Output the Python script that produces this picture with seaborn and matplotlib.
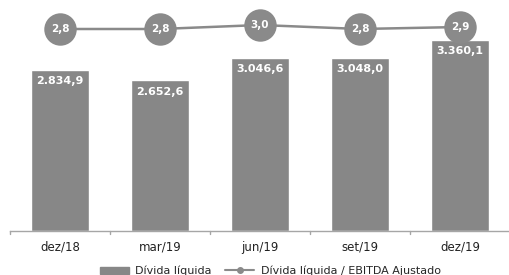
import matplotlib
matplotlib.use("Agg")
import matplotlib.pyplot as plt
import seaborn as sns
import pandas as pd
from matplotlib.lines import Line2D
from matplotlib.patches import Patch

categories = ["dez/18", "mar/19", "jun/19", "set/19", "dez/19"]
divida_liquida = [2834.9, 2652.6, 3046.6, 3048.0, 3360.1]
alavancagem = [2.8, 2.8, 3.0, 2.8, 2.9]
bar_labels = ["2.834,9", "2.652,6", "3.046,6", "3.048,0", "3.360,1"]
point_labels = ["2,8", "2,8", "3,0", "2,8", "2,9"]

sns.set_theme(style="white")
plt.rcParams["font.family"] = ["DejaVu Sans"]

df = pd.DataFrame({"cat": categories, "val": divida_liquida, "lev": alavancagem})

fig = plt.figure(figsize=(5.1, 2.75), dpi=100)
ax = fig.add_axes([10/510, 44/275, 500/510, 231/275])
gray = "#878787"

sns.barplot(data=df, x="cat", y="val", color=gray, width=0.58, ax=ax, saturation=1)
ax.set_ylim(0, 4067)
ax.set_xlim(-0.5, 4.5)
ax.set_xlabel("")
ax.set_ylabel("")
ax.set_yticks([])
for s in ["top", "right", "left"]:
    ax.spines[s].set_visible(False)
ax.spines["bottom"].set_color("#a6a6a6")
ax.spines["bottom"].set_linewidth(1)
ax.set_xticks(range(len(categories)))
ax.set_xticklabels(categories, fontsize=8.5, color="#222222")
ax.tick_params(axis="x", length=0, pad=7)
for b in [-0.5, 0.5, 1.5, 2.5, 3.5, 4.5]:
    ax.plot([b, b], [0, -60], color="#a6a6a6", lw=1, clip_on=False)

for i, (v, lab) in enumerate(zip(divida_liquida, bar_labels)):
    ax.text(i, v - 110, lab, ha="center", va="top", color="white",
            fontsize=8, fontweight="bold")

ax2 = ax.twinx()
sns.pointplot(data=df, x="cat", y="lev", ax=ax2, color="#8a8a8a",
              markers="o", linestyles="-", markersize=22, linewidth=1.8)
ax2.set_ylim(-7.3, 4.25)
ax2.set_xlim(-0.5, 4.5)
ax2.set_yticks([])
ax2.set_ylabel("")
ax2.set_xlabel("")
for s in ax2.spines.values():
    s.set_visible(False)
for i, (v, lab) in enumerate(zip(alavancagem, point_labels)):
    ax2.text(i, v, lab, ha="center", va="center", color="white",
             fontsize=7.5, fontweight="bold")

handles = [Patch(facecolor=gray, edgecolor=gray),
           Line2D([0], [0], color="#8a8a8a", lw=1.5, marker="o", markersize=4)]
fig.legend(handles, ["Dívida líquida", "Dívida líquida / EBITDA Ajustado"],
           loc="center", bbox_to_anchor=(0.53, 0.015), ncol=2, frameon=False,
           fontsize=8, handlelength=2.6, handleheight=0.6, columnspacing=1.2,
           handletextpad=0.6)

fig.savefig("out.png", dpi=100)
